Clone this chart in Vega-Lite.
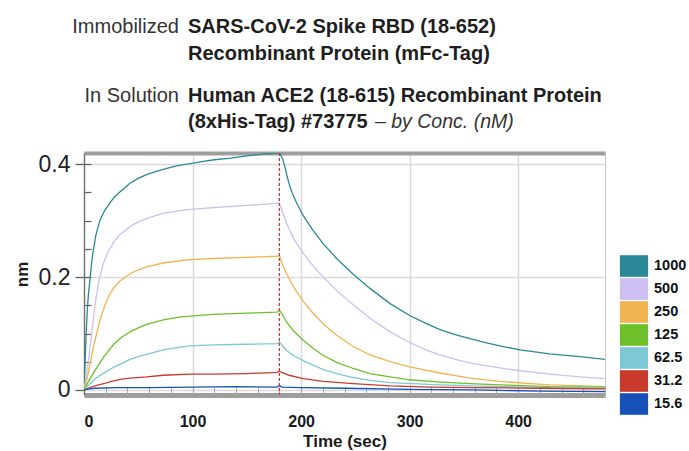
{
  "$schema": "https://vega.github.io/schema/vega-lite/v6.json",
  "autosize": "none",
  "width": 521,
  "height": 242,
  "padding": {"left": 84, "top": 153, "right": 84, "bottom": 56},
  "background": "white",
  "config": {
    "view": {"stroke": "#c8c8c8", "strokeWidth": 1},
    "font": "Liberation Sans, Arial, sans-serif"
  },
  "datasets": {
    "bli": [
      {"conc":"1000","time":0,"nm":0},{"conc":"1000","time":1,"nm":0.05},{"conc":"1000","time":2,"nm":0.1},{"conc":"1000","time":3,"nm":0.14},{"conc":"1000","time":4,"nm":0.168},{"conc":"1000","time":5.5,"nm":0.195},{"conc":"1000","time":7,"nm":0.225},{"conc":"1000","time":8.6,"nm":0.248},{"conc":"1000","time":11,"nm":0.275},{"conc":"1000","time":14.7,"nm":0.301},{"conc":"1000","time":19,"nm":0.318},{"conc":"1000","time":24,"nm":0.332},{"conc":"1000","time":28,"nm":0.342},{"conc":"1000","time":33,"nm":0.351},{"conc":"1000","time":38,"nm":0.359},{"conc":"1000","time":42,"nm":0.366},{"conc":"1000","time":50,"nm":0.375},{"conc":"1000","time":58,"nm":0.382},{"conc":"1000","time":66,"nm":0.387},{"conc":"1000","time":73,"nm":0.391},{"conc":"1000","time":85,"nm":0.397},{"conc":"1000","time":98,"nm":0.401},{"conc":"1000","time":110,"nm":0.405},{"conc":"1000","time":120,"nm":0.408},{"conc":"1000","time":135,"nm":0.411},{"conc":"1000","time":150,"nm":0.415},{"conc":"1000","time":165,"nm":0.418},{"conc":"1000","time":178,"nm":0.42},{"conc":"1000","time":180,"nm":0.421},{"conc":"1000","time":183,"nm":0.41},{"conc":"1000","time":185,"nm":0.396},{"conc":"1000","time":187.5,"nm":0.376},{"conc":"1000","time":189.8,"nm":0.36},{"conc":"1000","time":192.9,"nm":0.344},{"conc":"1000","time":196,"nm":0.331},{"conc":"1000","time":202,"nm":0.309},{"conc":"1000","time":211,"nm":0.283},{"conc":"1000","time":220.5,"nm":0.259},{"conc":"1000","time":232.8,"nm":0.233},{"conc":"1000","time":248,"nm":0.205},{"conc":"1000","time":263.5,"nm":0.18},{"conc":"1000","time":282,"nm":0.153},{"conc":"1000","time":300,"nm":0.132},{"conc":"1000","time":315,"nm":0.118},{"conc":"1000","time":328,"nm":0.107},{"conc":"1000","time":342,"nm":0.098},{"conc":"1000","time":355.6,"nm":0.091},{"conc":"1000","time":370,"nm":0.084},{"conc":"1000","time":383,"nm":0.078},{"conc":"1000","time":401.7,"nm":0.071},{"conc":"1000","time":429,"nm":0.064},{"conc":"1000","time":457,"nm":0.059},{"conc":"1000","time":480,"nm":0.054},
      {"conc":"500","time":0,"nm":0},{"conc":"500","time":2,"nm":0.025},{"conc":"500","time":4,"nm":0.05},{"conc":"500","time":5.5,"nm":0.075},{"conc":"500","time":8,"nm":0.115},{"conc":"500","time":10,"nm":0.148},{"conc":"500","time":11.7,"nm":0.17},{"conc":"500","time":14,"nm":0.196},{"conc":"500","time":17.8,"nm":0.224},{"conc":"500","time":22,"nm":0.244},{"conc":"500","time":27,"nm":0.261},{"conc":"500","time":33,"nm":0.275},{"conc":"500","time":42,"nm":0.289},{"conc":"500","time":50,"nm":0.298},{"conc":"500","time":58,"nm":0.304},{"conc":"500","time":66,"nm":0.309},{"conc":"500","time":73,"nm":0.313},{"conc":"500","time":88,"nm":0.318},{"conc":"500","time":98,"nm":0.32},{"conc":"500","time":119,"nm":0.323},{"conc":"500","time":135,"nm":0.325},{"conc":"500","time":150,"nm":0.327},{"conc":"500","time":165,"nm":0.329},{"conc":"500","time":178,"nm":0.331},{"conc":"500","time":180,"nm":0.331},{"conc":"500","time":183.6,"nm":0.312},{"conc":"500","time":186.7,"nm":0.295},{"conc":"500","time":192.9,"nm":0.269},{"conc":"500","time":202,"nm":0.242},{"conc":"500","time":211,"nm":0.22},{"conc":"500","time":220.5,"nm":0.2},{"conc":"500","time":232.8,"nm":0.176},{"conc":"500","time":248,"nm":0.151},{"conc":"500","time":263.5,"nm":0.127},{"conc":"500","time":282,"nm":0.103},{"conc":"500","time":300,"nm":0.084},{"conc":"500","time":315,"nm":0.071},{"conc":"500","time":328,"nm":0.062},{"conc":"500","time":342,"nm":0.054},{"conc":"500","time":355.6,"nm":0.048},{"conc":"500","time":370,"nm":0.043},{"conc":"500","time":383,"nm":0.039},{"conc":"500","time":401.7,"nm":0.034},{"conc":"500","time":429,"nm":0.028},{"conc":"500","time":457,"nm":0.023},{"conc":"500","time":480,"nm":0.02},
      {"conc":"250","time":0,"nm":0},{"conc":"250","time":3,"nm":0.022},{"conc":"250","time":5.5,"nm":0.045},{"conc":"250","time":8,"nm":0.07},{"conc":"250","time":11.7,"nm":0.1},{"conc":"250","time":15,"nm":0.126},{"conc":"250","time":19.3,"nm":0.15},{"conc":"250","time":23,"nm":0.167},{"conc":"250","time":27,"nm":0.18},{"conc":"250","time":33,"nm":0.193},{"conc":"250","time":42.4,"nm":0.206},{"conc":"250","time":50,"nm":0.213},{"conc":"250","time":57.8,"nm":0.218},{"conc":"250","time":73,"nm":0.225},{"conc":"250","time":88,"nm":0.229},{"conc":"250","time":97.7,"nm":0.231},{"conc":"250","time":119,"nm":0.233},{"conc":"250","time":150,"nm":0.235},{"conc":"250","time":178,"nm":0.237},{"conc":"250","time":180,"nm":0.238},{"conc":"250","time":183,"nm":0.222},{"conc":"250","time":186.7,"nm":0.206},{"conc":"250","time":192.9,"nm":0.183},{"conc":"250","time":202,"nm":0.157},{"conc":"250","time":211,"nm":0.136},{"conc":"250","time":220.5,"nm":0.117},{"conc":"250","time":232.8,"nm":0.097},{"conc":"250","time":248,"nm":0.077},{"conc":"250","time":263.5,"nm":0.062},{"conc":"250","time":282,"nm":0.05},{"conc":"250","time":300,"nm":0.041},{"conc":"250","time":328,"nm":0.03},{"conc":"250","time":355.6,"nm":0.021},{"conc":"250","time":383,"nm":0.015},{"conc":"250","time":429,"nm":0.009},{"conc":"250","time":480,"nm":0.006},
      {"conc":"125","time":0,"nm":0},{"conc":"125","time":5.5,"nm":0.02},{"conc":"125","time":11.7,"nm":0.039},{"conc":"125","time":18,"nm":0.058},{"conc":"125","time":27,"nm":0.08},{"conc":"125","time":35,"nm":0.094},{"conc":"125","time":42.4,"nm":0.103},{"conc":"125","time":50,"nm":0.11},{"conc":"125","time":57.8,"nm":0.116},{"conc":"125","time":73,"nm":0.124},{"conc":"125","time":88,"nm":0.129},{"conc":"125","time":97.7,"nm":0.131},{"conc":"125","time":119,"nm":0.134},{"conc":"125","time":150,"nm":0.136},{"conc":"125","time":178,"nm":0.138},{"conc":"125","time":180,"nm":0.141},{"conc":"125","time":182,"nm":0.136},{"conc":"125","time":186.7,"nm":0.12},{"conc":"125","time":192.9,"nm":0.105},{"conc":"125","time":202,"nm":0.088},{"conc":"125","time":211,"nm":0.074},{"conc":"125","time":220.5,"nm":0.061},{"conc":"125","time":232.8,"nm":0.049},{"conc":"125","time":248,"nm":0.038},{"conc":"125","time":263.5,"nm":0.029},{"conc":"125","time":282,"nm":0.023},{"conc":"125","time":300,"nm":0.018},{"conc":"125","time":328,"nm":0.014},{"conc":"125","time":355.6,"nm":0.011},{"conc":"125","time":383,"nm":0.009},{"conc":"125","time":429,"nm":0.006},{"conc":"125","time":480,"nm":0.005},
      {"conc":"62.5","time":0,"nm":0},{"conc":"62.5","time":5.5,"nm":0.011},{"conc":"62.5","time":11.7,"nm":0.022},{"conc":"62.5","time":20,"nm":0.032},{"conc":"62.5","time":27,"nm":0.04},{"conc":"62.5","time":35,"nm":0.047},{"conc":"62.5","time":42.4,"nm":0.054},{"conc":"62.5","time":50,"nm":0.059},{"conc":"62.5","time":57.8,"nm":0.063},{"conc":"62.5","time":73,"nm":0.071},{"conc":"62.5","time":88,"nm":0.076},{"conc":"62.5","time":97.7,"nm":0.078},{"conc":"62.5","time":119,"nm":0.08},{"conc":"62.5","time":150,"nm":0.081},{"conc":"62.5","time":178,"nm":0.082},{"conc":"62.5","time":180,"nm":0.085},{"conc":"62.5","time":182,"nm":0.08},{"conc":"62.5","time":186.7,"nm":0.07},{"conc":"62.5","time":192.9,"nm":0.061},{"conc":"62.5","time":202,"nm":0.052},{"conc":"62.5","time":211,"nm":0.044},{"conc":"62.5","time":220.5,"nm":0.036},{"conc":"62.5","time":232.8,"nm":0.029},{"conc":"62.5","time":248,"nm":0.022},{"conc":"62.5","time":263.5,"nm":0.017},{"conc":"62.5","time":282,"nm":0.013},{"conc":"62.5","time":328,"nm":0.009},{"conc":"62.5","time":383,"nm":0.006},{"conc":"62.5","time":430,"nm":0.004},{"conc":"62.5","time":480,"nm":0.003},
      {"conc":"31.2","time":0,"nm":0},{"conc":"31.2","time":5.5,"nm":0.004},{"conc":"31.2","time":11.7,"nm":0.008},{"conc":"31.2","time":20,"nm":0.012},{"conc":"31.2","time":27,"nm":0.016},{"conc":"31.2","time":35,"nm":0.019},{"conc":"31.2","time":42.4,"nm":0.021},{"conc":"31.2","time":57.8,"nm":0.023},{"conc":"31.2","time":73,"nm":0.026},{"conc":"31.2","time":97.7,"nm":0.028},{"conc":"31.2","time":120,"nm":0.028},{"conc":"31.2","time":150,"nm":0.029},{"conc":"31.2","time":178,"nm":0.031},{"conc":"31.2","time":180,"nm":0.034},{"conc":"31.2","time":182,"nm":0.031},{"conc":"31.2","time":189,"nm":0.026},{"conc":"31.2","time":202,"nm":0.02},{"conc":"31.2","time":220.5,"nm":0.015},{"conc":"31.2","time":248,"nm":0.011},{"conc":"31.2","time":282,"nm":0.007},{"conc":"31.2","time":320,"nm":0.005},{"conc":"31.2","time":360,"nm":0.004},{"conc":"31.2","time":420,"nm":0.003},{"conc":"31.2","time":480,"nm":0.002},
      {"conc":"15.6","time":0,"nm":0},{"conc":"15.6","time":5,"nm":0.002},{"conc":"15.6","time":10,"nm":0.003},{"conc":"15.6","time":30,"nm":0.004},{"conc":"15.6","time":60,"nm":0.004},{"conc":"15.6","time":100,"nm":0.005},{"conc":"15.6","time":140,"nm":0.006},{"conc":"15.6","time":178,"nm":0.005},{"conc":"15.6","time":180,"nm":0.008},{"conc":"15.6","time":182,"nm":0.005},{"conc":"15.6","time":200,"nm":0.004},{"conc":"15.6","time":240,"nm":0.003},{"conc":"15.6","time":300,"nm":0.001},{"conc":"15.6","time":360,"nm":0},{"conc":"15.6","time":420,"nm":-0.002},{"conc":"15.6","time":480,"nm":-0.003}
    ]
  },
  "resolve": {"axis": {"x": "independent", "y": "independent"}},
  "layer": [
    {
      "data": {"name": "bli"},
      "mark": {"type": "line", "strokeWidth": 1.3, "clip": true},
      "encoding": {
        "x": {
          "field": "time", "type": "quantitative",
          "scale": {"domain": [0, 480], "nice": false, "zero": false},
          "axis": {
            "orient": "bottom", "values": [0, 100, 200, 300, 400], "grid": true,
            "gridColor": "#dadada", "gridWidth": 1.5,
            "domainColor": "#9e9e9e", "domainWidth": 5, "ticks": false,
            "labelFontSize": 16, "labelFontWeight": "bold", "labelColor": "#1a1a1a", "labelPadding": 18,
            "title": "Time (sec)",
            "titleFontSize": 17, "titleFontWeight": "bold", "titleColor": "#1a1a1a", "titlePadding": 4
          }
        },
        "y": {
          "field": "nm", "type": "quantitative",
          "scale": {"domain": [-0.009, 0.42], "nice": false, "zero": false},
          "axis": {
            "orient": "left", "values": [0, 0.2, 0.4], "format": "~g", "grid": true,
            "gridColor": "#dadada", "gridWidth": 1.5,
            "domainColor": "#707070", "domainWidth": 1.3,
            "tickColor": "#606060", "tickWidth": 1.3, "tickSize": 9,
            "labelFontSize": 23, "labelColor": "#222222", "labelPadding": 5,
            "title": "nm", "titleFontSize": 17, "titleFontWeight": "bold", "titleColor": "#1a1a1a", "titlePadding": 7
          }
        },
        "color": {
          "field": "conc", "type": "nominal",
          "scale": {
            "domain": ["1000", "500", "250", "125", "62.5", "31.2", "15.6"],
            "range": ["#2a8898", "#cdbff2", "#f0b450", "#6cc12a", "#7cc8d4", "#c83a2a", "#1652b8"]
          },
          "legend": {
            "orient": "none", "legendX": 540, "legendY": 103, "title": null,
            "symbolType": "M-1.46,-1.1H1.46V1.1H-1.46Z", "symbolSize": 342,
            "symbolStrokeWidth": 1.2, "rowPadding": -5.7, "labelOffset": 10,
            "labelFontSize": 14.5, "labelFontWeight": "bold", "labelColor": "#111111",
            "encode": {
              "symbols": {
                "update": {
                  "fill": {"scale": "color", "field": "value"},
                  "fillOpacity": {"value": 1},
                  "stroke": {"value": "#333333"},
                  "strokeWidth": {"value": 1.2}
                }
              }
            }
          }
        }
      }
    },
    {
      "data": {"values": [{"phase": "dissociation"}]},
      "mark": {"type": "rule", "color": "#e8262a", "strokeDash": [3, 2], "strokeWidth": 1.2},
      "encoding": {
        "x": {
          "datum": 180, "type": "quantitative",
          "axis": {
            "orient": "bottom", "values": [0, 20, 40, 60, 80, 100, 120, 140, 160, 180, 200, 220, 240, 260, 280, 300, 320, 340, 360, 380, 400, 420, 440, 460, 480],
            "domain": false, "labels": false, "grid": false, "ticks": true,
            "tickSize": -8, "tickColor": "#a8a8a8", "tickWidth": 1, "title": null
          }
        }
      }
    },
    {
      "data": {"values": [{"phase": "frame"}]},
      "mark": {"type": "rule", "opacity": 0},
      "encoding": {
        "y": {
          "datum": 0, "type": "quantitative",
          "axis": {
            "orient": "left", "values": [0.05, 0.1, 0.15, 0.2, 0.25, 0.3, 0.35, 0.4],
            "domain": false, "labels": false, "grid": false, "ticks": true,
            "tickSize": -7, "tickColor": "#606060", "tickWidth": 1.2, "title": null
          }
        }
      }
    },
    {
      "data": {"values": [{"phase": "frame"}]},
      "mark": {"type": "rule", "opacity": 0},
      "encoding": {
        "x": {
          "datum": 0, "type": "quantitative",
          "axis": {
            "orient": "top", "domainColor": "#9e9e9e", "domainWidth": 4,
            "ticks": false, "labels": false, "grid": false, "title": null
          }
        }
      }
    },
    {
      "data": {"values": [{"role": "Immobilized"}]},
      "mark": {"type": "text", "x": 95, "y": -120, "align": "right", "baseline": "alphabetic", "fontSize": 20, "color": "#333333"},
      "encoding": {"text": {"field": "role"}}
    },
    {
      "data": {"values": [{"protein": "SARS-CoV-2 Spike RBD (18-652)\nRecombinant Protein (mFc-Tag)"}]},
      "mark": {"type": "text", "x": 104, "y": -120, "align": "left", "baseline": "alphabetic", "fontSize": 20, "fontWeight": "bold", "lineBreak": "\n", "lineHeight": 27, "color": "#1e1e1e"},
      "encoding": {"text": {"field": "protein"}}
    },
    {
      "data": {"values": [{"sep": 1}]},
      "mark": {"type": "rule", "x": -16, "x2": 522, "y": -81, "color": "#dddddd", "strokeWidth": 2.5},
      "encoding": {}
    },
    {
      "data": {"values": [{"role": "In Solution"}]},
      "mark": {"type": "text", "x": 95, "y": -51, "align": "right", "baseline": "alphabetic", "fontSize": 20, "color": "#333333"},
      "encoding": {"text": {"field": "role"}}
    },
    {
      "data": {"values": [{"protein": "Human ACE2 (18-615) Recombinant Protein\n(8xHis-Tag) #73775"}]},
      "mark": {"type": "text", "x": 104, "y": -51, "align": "left", "baseline": "alphabetic", "fontSize": 20, "fontWeight": "bold", "lineBreak": "\n", "lineHeight": 26, "color": "#1e1e1e"},
      "encoding": {"text": {"field": "protein"}}
    },
    {
      "data": {"values": [{"note": "– by Conc. (nM)"}]},
      "mark": {"type": "text", "x": 291, "y": -25, "align": "left", "baseline": "alphabetic", "fontSize": 19.5, "fontStyle": "italic", "color": "#333333"},
      "encoding": {"text": {"field": "note"}}
    }
  ]
}
